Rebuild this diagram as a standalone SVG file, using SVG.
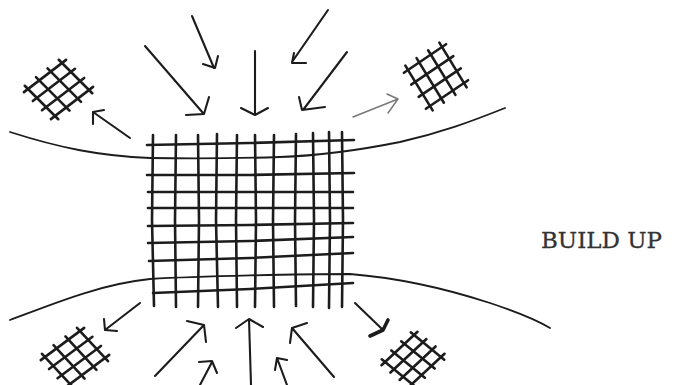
<svg xmlns="http://www.w3.org/2000/svg" width="685" height="385" viewBox="0 0 685 385">
<style>
.ink{fill:none;stroke:#1c1c1c;stroke-linecap:round;stroke-linejoin:round}
.grid{stroke-width:2.6}
.curve{stroke-width:1.8}
.arrow{stroke-width:2.1}
.mesh line{stroke:#1c1c1c;stroke-width:2.6;stroke-linecap:round;vector-effect:non-scaling-stroke}
.label{font-family:"DejaVu Serif","Liberation Serif",serif;font-size:23px;fill:#333;stroke:#333;stroke-width:0.3}
</style>
<defs>
<g id="mesh" class="mesh">
<line x1="0" y1="-0.12" x2="0" y2="1.12"/>
<line x1="0.33" y1="-0.12" x2="0.33" y2="1.12"/>
<line x1="0.67" y1="-0.12" x2="0.67" y2="1.12"/>
<line x1="1" y1="-0.12" x2="1" y2="1.12"/>
<line y1="0" x1="-0.12" y2="0" x2="1.12"/>
<line y1="0.33" x1="-0.12" y2="0.33" x2="1.12"/>
<line y1="0.67" x1="-0.12" y2="0.67" x2="1.12"/>
<line y1="1" x1="-0.12" y2="1" x2="1.12"/>
</g>
</defs>
<rect width="685" height="385" fill="#ffffff"/>
<g id="boundaries" class="ink curve">
<path d="M10,132 C60,148 100,156 150,158 C200,159 250,158 280,157 C310,156 350,152 400,142 C440,133 470,122 505,108"/>
<path d="M10,320 C50,305 100,284 150,279 C200,276 300,274 350,274 C400,278 450,290 490,303 C520,313 540,322 550,328"/>
</g>
<g id="main-grid" class="ink grid">
<path d="M153,135 L152,220 L154,306"/>
<path d="M176,135 L175,220 L176,307"/>
<path d="M198,135 L199,220 L198,307"/>
<path d="M217,134 L216,220 L218,307"/>
<path d="M237,135 L236,220 L237,307"/>
<path d="M255,135 L256,220 L255,307"/>
<path d="M274,135 L273,220 L274,307"/>
<path d="M296,134 L295,220 L296,306"/>
<path d="M313,133 L314,220 L313,307"/>
<path d="M329,132 L330,220 L329,308"/>
<path d="M342,132 L343,220 L342,307"/>
<path d="M147,145 L250,143 L354,140"/>
<path d="M147,175 L250,175 L354,173"/>
<path d="M148,192 L250,192 L353,192"/>
<path d="M148,208 L250,208 L353,208"/>
<path d="M148,226 L250,225 L353,223"/>
<path d="M148,243 L250,241 L353,237"/>
<path d="M149,261 L250,258 L353,253"/>
<path d="M153,293 L250,289 L353,283"/>
</g>
<g id="arrows" class="ink arrow">
<path d="M145,46 L203,113 M186,115 L204,114 L209,97"/>
<path d="M192,16 L214,68 M203,64 L215,68 L218,56"/>
<path d="M255,51 L255,115 M241,108 L255,115 L268,108"/>
<path d="M328,10 L292,62 M294,53 L292,63 L306,63"/>
<path d="M347,52 L303,110 M299,97 L302,110 L325,107"/>
<path d="M130,138 L93,112 M93,124 L93,112 L104,110"/>
<path d="M353,117 L398,99 M387,94 L398,99 L388,113" style="stroke:#777;stroke-width:1.4"/>
<path d="M140,303 L105,330 M104,319 L105,330 L117,331"/>
<path d="M155,376 L204,325 M187,321 L204,325 L206,342"/>
<path d="M200,385 L212,362 M199,362 L212,361 L217,373"/>
<path d="M251,385 L249,319 M236,328 L249,319 L263,327"/>
<path d="M287,385 L277,358 M275,370 L277,358 L287,360"/>
<path d="M334,377 L292,328 M307,323 L292,328 L290,343"/>
<path d="M355,303 L382,329"/>
<path d="M370,336 L383,330 L388,320" style="stroke-width:3.6"/>
</g>
<g id="meshes">
<use href="#mesh" transform="matrix(34 -26 27 27 28 89)"/>
<use href="#mesh" transform="matrix(34 -23 22 36 408 70)"/>
<use href="#mesh" transform="matrix(35 -26 25 27 45 357)"/>
<use href="#mesh" transform="matrix(29 -27 27 22 385 362)"/>
</g>
<text id="label" class="label" x="541" y="248" textLength="121" lengthAdjust="spacingAndGlyphs">BUILD UP</text>
</svg>
